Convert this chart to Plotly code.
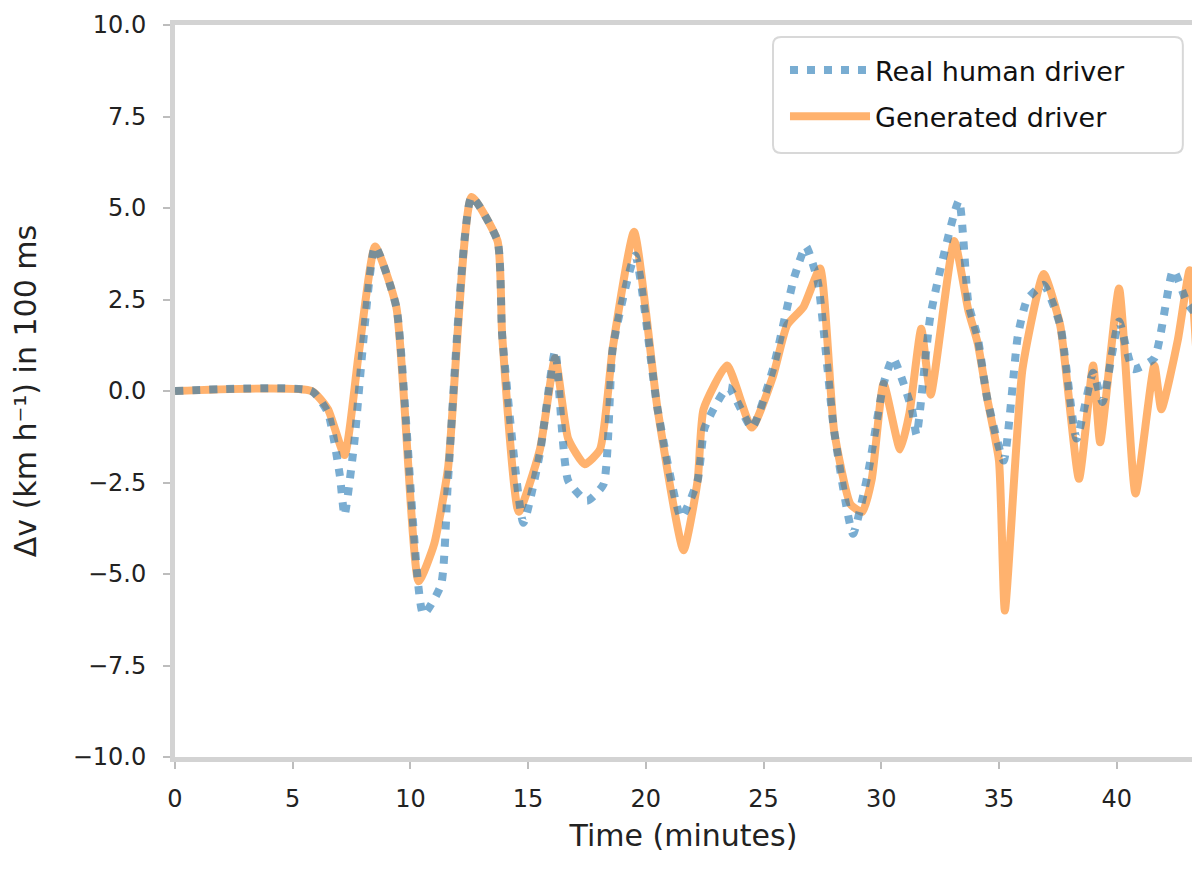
import plotly.graph_objects as go

# Real human driver (time in minutes, value)
real_t = [0, 5.8, 6.5, 7.0, 7.2, 7.6, 8.5, 9.4, 10.55, 11.3, 11.6, 12.6, 13.7, 13.9, 14.8,
          15.5, 16.15, 16.7, 17.5, 18.2, 18.6, 19.55, 20.5, 21.5, 22.2, 22.5, 23.5, 24.5,
          25.4, 26.3, 26.8, 27.3, 28.0, 28.8, 29.45, 30.1, 30.5, 31.3, 31.5, 32.1, 33.3,
          33.7, 34.1, 34.5, 35.2, 35.8, 36.2, 36.9, 37.6, 38.3, 39.0, 39.4, 40.1, 40.7,
          41.6, 42.4, 43.0, 43.5]
real_v = [0, 0, -0.6, -2.3, -3.4, -1.5, 3.95, 2.3, -6.1, -5.3, -2.4, 5.3, 4.1, 1.5, -3.6,
          -1.7, 1.1, -2.45, -3.0, -2.55, 1.2, 3.7, -0.5, -3.45, -2.45, -1.0, 0.1, -1.0,
          0.6, 3.1, 3.95, 3.0, -1.1, -3.9, -2.2, 0.2, 0.9, -0.5, -1.2, 2.1, 5.2,
          2.4, 1.45, -0.2, -1.9, 1.5, 2.5, 2.9, 1.8, -1.3, 0.5, -0.3, 1.9, 0.6,
          0.9, 3.3, 2.4, 2.0]

# Generated driver
gen_t = [0, 5.8, 6.5, 7.2, 7.8, 8.5, 9.4, 10.35, 11.0, 11.6, 12.6, 13.7, 13.9, 14.6,
         15.5, 16.15, 16.7, 17.4, 18.05, 18.6, 19.5, 20.5, 21.6, 22.2, 22.45, 23.45, 24.5,
         25.4, 26.0, 26.7, 27.4, 28.0, 28.7, 29.2, 29.6, 30.1, 30.8, 31.2, 31.7, 32.1,
         33.1, 33.7, 34.1, 34.5, 35.0, 35.25, 36.0, 36.9, 37.6, 38.4, 39.0, 39.3, 40.1,
         40.8, 41.6, 41.9, 42.6, 43.1, 43.5]
gen_v = [0, 0, -0.5, -1.75, 1.0, 3.95, 2.3, -5.2, -4.2, -2.1, 5.3, 4.1, 1.5, -3.3,
         -1.6, 0.9, -1.3, -2.0, -1.6, 1.2, 4.35, -0.5, -4.35, -2.45, -0.5, 0.7, -1.0,
         0.4, 1.8, 2.3, 3.35, -1.1, -3.1, -3.3, -2.4, 0.2, -1.6, -0.6, 1.7, -0.1,
         4.1, 2.2, 1.3, -0.2, -1.9, -6.0, 0.6, 3.2, 1.8, -2.4, 0.7, -1.4, 2.8,
         -2.8, 0.7, -0.5, 1.4, 3.3, -0.2]

x_ticks = [0, 5, 10, 15, 20, 25, 30, 35, 40]
y_ticks = [-10.0, -7.5, -5.0, -2.5, 0.0, 2.5, 5.0, 7.5, 10.0]
y_tick_text = [("\u2212" if v < 0 else "") + f"{abs(v):.1f}" for v in y_ticks]

FONT = "DejaVu Sans"

fig = go.Figure()
fig.add_trace(go.Scatter(
    x=gen_t, y=gen_v, mode="lines", name="Generated driver",
    line=dict(color="rgba(255,127,14,0.6)", width=8, shape="spline", smoothing=0.5),
    legendrank=2, legendgroup="g",
))
fig.add_trace(go.Scatter(
    x=real_t, y=real_v, mode="lines", name="Real human driver",
    line=dict(color="rgba(31,119,180,0.6)", width=8, dash="8px,9px", shape="spline", smoothing=0.5),
    legendrank=1, legendgroup="r",
))

axis_common = dict(
    showgrid=False, zeroline=False, showline=True, linecolor="#d3d3d3", linewidth=5,
    mirror=True, ticks="outside", ticklen=7, tickwidth=2, tickcolor="#bdbdbd",
    tickfont=dict(family=FONT, size=24, color="#222222"), automargin=False,
)

# legend frame (rounded box) drawn in paper coordinates
x0, x1, y0, y1 = 0.588, 0.991, 0.8251, 0.9836
rx, ry = 0.008, 0.011
legend_box = (f"M{x0+rx},{y1} L{x1-rx},{y1} Q{x1},{y1} {x1},{y1-ry} "
              f"L{x1},{y0+ry} Q{x1},{y0} {x1-rx},{y0} L{x0+rx},{y0} "
              f"Q{x0},{y0} {x0},{y0+ry} L{x0},{y1-ry} Q{x0},{y1} {x0+rx},{y1} Z")

fig.update_layout(
    width=1200, height=876,
    margin=dict(l=167, r=16, t=17, b=127),
    paper_bgcolor="white", plot_bgcolor="white",
    font=dict(family=FONT, color="#222222"),
    xaxis=dict(range=[0, 43.2], tickvals=x_ticks, ticktext=[str(v) for v in x_ticks],
               ticklabelstandoff=9,
               title=dict(text="Time (minutes)", font=dict(family=FONT, size=30), standoff=15),
               **axis_common),
    yaxis=dict(range=[-10, 10], tickvals=y_ticks, ticktext=y_tick_text,
               ticklabelstandoff=12,
               title=dict(text="Δv (km h⁻¹) in 100 ms", font=dict(family=FONT, size=30), standoff=42),
               **axis_common),
    shapes=[dict(type="path", path=legend_box, xref="paper", yref="paper",
                 fillcolor="rgba(255,255,255,0.85)", line=dict(color="#d8d8d8", width=2),
                 layer="above")],
    legend=dict(x=0.5998, y=0.9713, xanchor="left", yanchor="top",
                bgcolor="rgba(0,0,0,0)", borderwidth=0,
                font=dict(family=FONT, size=27, color="#111111"),
                itemwidth=80, tracegroupgap=8),
    showlegend=True,
)

fig.write_html("out.html")
